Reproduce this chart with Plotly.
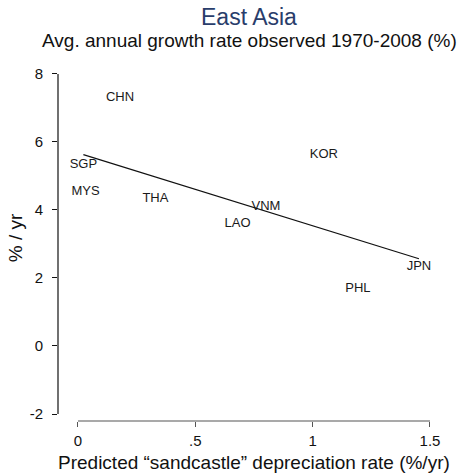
import numpy as np
import plotly.graph_objects as go

# Country codes and their values
countries = ["CHN", "SGP", "MYS", "THA", "KOR", "VNM", "LAO", "JPN", "PHL"]
depreciation = [0.179, 0.023, 0.032, 0.330, 1.048, 0.801, 0.680, 1.453, 1.193]
growth = [7.31, 5.32, 4.53, 4.34, 5.62, 4.10, 3.61, 2.32, 1.67]

x_ticks = [0, 0.5, 1, 1.5]
x_tick_labels = ["0", ".5", "1", "1.5"]
y_ticks = [-2, 0, 2, 4, 6, 8]
y_tick_labels = ["-2", "0", "2", "4", "6", "8"]

FONT = "Liberation Sans, Arial, sans-serif"

# Least-squares fit over the observed range
slope, intercept = np.polyfit(depreciation, growth, 1)
fit_x = np.array([min(depreciation), max(depreciation)])
fit_y = intercept + slope * fit_x

fig = go.Figure()

fig.add_trace(go.Scatter(
    x=depreciation, y=growth, mode="text", text=countries,
    textposition="middle center",
    textfont=dict(family=FONT, size=13, color="#1a1a1a"),
    hoverinfo="skip", showlegend=False,
))

fig.add_trace(go.Scatter(
    x=fit_x, y=fit_y, mode="lines",
    line=dict(color="#111111", width=1.2),
    hoverinfo="skip", showlegend=False,
))

# Axis lines that only span the labelled tick range
fig.add_shape(type="line", xref="paper", yref="y", x0=0, x1=0,
              y0=min(y_ticks), y1=max(y_ticks),
              line=dict(color="#111111", width=1.2))
fig.add_shape(type="line", xref="x", yref="paper", x0=min(x_ticks), x1=max(x_ticks),
              y0=0, y1=0, line=dict(color="#555555", width=1.2))

fig.update_xaxes(
    range=[-0.0852, 1.581], showgrid=False, zeroline=False, showline=False,
    tickmode="array", tickvals=x_ticks, ticktext=x_tick_labels,
    ticks="outside", ticklen=5, tickcolor="#555555", tickwidth=1.2,
    ticklabelstandoff=1,
    tickfont=dict(family=FONT, size=15, color="#111111"),
)
fig.update_yaxes(
    range=[-2.206, 8.235], showgrid=False, zeroline=False, showline=False,
    tickmode="array", tickvals=y_ticks, ticktext=y_tick_labels,
    ticks="outside", ticklen=5, tickcolor="#111111", tickwidth=1.2,
    ticklabelstandoff=6,
    tickfont=dict(family=FONT, size=15, color="#111111"),
)

annotations = [
    dict(text="East Asia", x=0.4885, y=1.0, xref="paper", yref="paper",
         yshift=49, xanchor="center", yanchor="middle", showarrow=False,
         font=dict(family=FONT, size=23, color="#293d6b")),
    dict(text="Avg. annual growth rate observed 1970-2008 (%)", x=0.4885, y=1.0,
         xref="paper", yref="paper", yshift=26, xanchor="center", yanchor="middle",
         showarrow=False, font=dict(family=FONT, size=19, color="#111111")),
    dict(text="Predicted \u201csandcastle\u201d depreciation rate (%/yr)", x=0.5,
         y=0.0, xref="paper", yref="paper", yshift=-41, xanchor="center",
         yanchor="middle", showarrow=False,
         font=dict(family=FONT, size=19, color="#111111")),
    dict(text="% / yr", x=0.0, y=0.515, xref="paper", yref="paper", xshift=-43,
         xanchor="center", yanchor="middle", textangle=-90, showarrow=False,
         font=dict(family=FONT, size=19, color="#111111")),
]

fig.update_layout(
    width=458, height=474,
    margin=dict(l=58, r=9, t=66, b=53),
    paper_bgcolor="white", plot_bgcolor="white",
    annotations=annotations,
    showlegend=False,
)

fig.write_html("out.html")
